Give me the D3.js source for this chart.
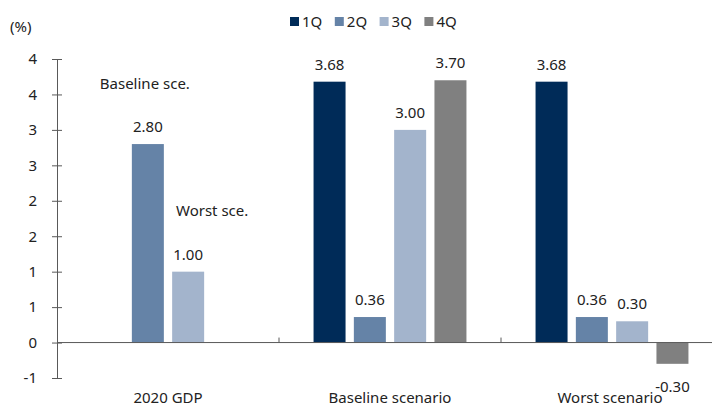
<!DOCTYPE html>
<html>
<head>
<meta charset="utf-8">
<script src="https://cdn.jsdelivr.net/npm/d3@7"></script>
<style>
  body { margin: 0; background: #fff; }
  svg { display: block; font-family: "Noto Sans", sans-serif; }
</style>
</head>
<body>
<svg width="712" height="407"></svg>
<script>
// chart data
let categories = ["2020 GDP", "Baseline scenario", "Worst scenario"];
let seriesNames = ["1Q", "2Q", "3Q", "4Q"];
let q1 = [null, 3.68, 3.68];
let q2 = [2.80, 0.36, 0.36];
let q3 = [1.00, 3.00, 0.30];
let q4 = [null, 3.70, -0.30];
let tickValues = [-0.5, 0, 0.5, 1, 1.5, 2, 2.5, 3, 3.5, 4];
let tickLabels = ["-1", "0", "1", "1", "2", "2", "3", "3", "4", "4"];
let notes = [
    {text: "Baseline sce.", cat: "2020 GDP", series: "2Q", value: 3.58},
    {text: "Worst sce.", cat: "2020 GDP", series: "3Q", value: 1.78}
];

let colors = ["#002b58", "#6583a7", "#a3b4cc", "#808080"];

let svg = d3.select("svg");
let margin = {top: 59, right: -11, bottom: 29, left: 57};
let width = +svg.attr("width") - margin.left - margin.right;
let height = +svg.attr("height") - margin.top - margin.bottom;

let allSeries = [q1, q2, q3, q4];

let x = d3.scaleBand().domain(categories).range([0, width]);
let y = d3.scaleLinear().domain([-0.5, 4]).range([height, 0]);

let step = 40.3, barW = 32;
let fs = "15px";

let g = svg.append("g")
    .attr("transform", "translate(" + margin.left + "," + margin.top + ")");

// flatten into bars, centring the non-empty bars of each category
let bars = [];
categories.forEach(function (c, ci) {
    let present = [];
    allSeries.forEach(function (s, si) {
        if (s[ci] !== null) present.push(si);
    });
    present.forEach(function (si, k) {
        let cx = x(c) + x.bandwidth() / 2 + (k - (present.length - 1) / 2) * step;
        bars.push({cat: c, si: si, value: allSeries[si][ci], cx: cx});
    });
});

function barCenter(cat, name) {
    let b = bars.find(function (d) { return d.cat === cat && seriesNames[d.si] === name; });
    return b.cx;
}

// y axis
let yAxis = g.append("g")
    .attr("class", "axis axis--y")
    .call(d3.axisLeft(y).tickValues(tickValues)
        .tickFormat(function (d, i) { return tickLabels[i]; })
        .tickSize(5).tickSizeOuter(0));
yAxis.select(".domain").attr("stroke", "#595959");
yAxis.selectAll(".tick line").attr("stroke", "#595959").attr("x2", 5).attr("x1", -5);
yAxis.selectAll(".tick text")
    .attr("x", -20)
    .attr("fill", "#222")
    .style("font-size", fs)
    .style("font-family", "Noto Sans");

// bars
g.selectAll(".bar")
    .data(bars)
    .enter().append("rect")
    .attr("class", "bar")
    .attr("x", function (d) { return d.cx - barW / 2; })
    .attr("y", function (d) { return y(Math.max(0, d.value)); })
    .attr("width", barW)
    .attr("height", function (d) { return Math.abs(y(d.value) - y(0)); })
    .attr("fill", function (d) { return colors[d.si]; });

// zero line and category separators
g.append("line")
    .attr("x1", 0).attr("x2", width)
    .attr("y1", y(0)).attr("y2", y(0))
    .attr("stroke", "#595959");
g.selectAll(".sep")
    .data(categories.slice(1))
    .enter().append("line")
    .attr("class", "sep")
    .attr("x1", function (d) { return x(d); })
    .attr("x2", function (d) { return x(d); })
    .attr("y1", y(0)).attr("y2", y(0) - 5)
    .attr("stroke", "#595959");

// value labels
g.selectAll(".lbl")
    .data(bars)
    .enter().append("text")
    .attr("class", "lbl")
    .attr("x", function (d) { return d.cx; })
    .attr("y", function (d) { return d.value >= 0 ? y(d.value) - 12 : y(d.value) + 28; })
    .attr("text-anchor", "middle")
    .attr("fill", "#222")
    .style("font-size", fs)
    .text(function (d) { return d.value.toFixed(2); });

// annotations
g.selectAll(".note")
    .data(notes)
    .enter().append("text")
    .attr("class", "note")
    .attr("x", function (d) { return barCenter(d.cat, d.series) - (d.series === "2Q" ? 3 : -24); })
    .attr("y", function (d) { return y(d.value); })
    .attr("text-anchor", "middle")
    .attr("fill", "#222")
    .style("font-size", fs)
    .text(function (d) { return d.text; });

// category labels
g.selectAll(".cat")
    .data(categories)
    .enter().append("text")
    .attr("class", "cat")
    .attr("x", function (d) { return x(d) + x.bandwidth() / 2 - (d === "Worst scenario" ? 2 : 0); })
    .attr("y", height + 25)
    .attr("text-anchor", "middle")
    .attr("fill", "#222")
    .style("font-size", fs)
    .text(function (d) { return d; });

// unit
svg.append("text")
    .attr("x", 10).attr("y", 32)
    .attr("fill", "#222")
    .style("font-size", fs)
    .text("(%)");

// legend
let legend = svg.append("g").attr("transform", "translate(290,17)");
let li = legend.selectAll(".leg")
    .data(seriesNames)
    .enter().append("g")
    .attr("class", "leg")
    .attr("transform", function (d, i) { return "translate(" + (i * 44.8) + ",0)"; });
li.append("rect").attr("width", 9).attr("height", 9)
    .attr("fill", function (d, i) { return colors[i]; });
li.append("text").attr("x", 12).attr("y", 10)
    .attr("fill", "#222")
    .style("font-size", fs)
    .text(function (d) { return d; });
</script>
</body>
</html>
